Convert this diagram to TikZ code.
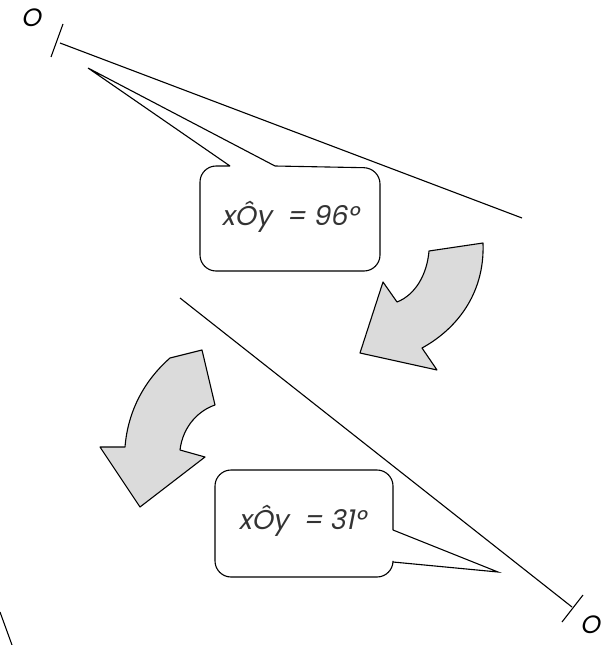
\documentclass[tikz,border=0pt]{standalone}
\usepackage{fontspec}
\newfontfamily\gothic{Poppins}[FakeSlant=0.2]
\begin{document}
\begin{tikzpicture}[x=0.035cm,y=-0.035cm,line width=1.1pt,
  callout/.style={draw,rounded corners=16},
  turnarrow/.style={draw,fill=gray!28,line join=round},
  anglelabel/.style={font=\gothic\fontsize{27}{29}\selectfont,color=black!80},
  pointlabel/.style={font=\gothic\fontsize{25}{27}\selectfont}]
\useasboundingbox (0,0) rectangle (611,645);
% first ray
\coordinate (O1) at (60,43);
\coordinate (E1) at (522,218);
\draw (O1) -- (E1);
\draw (51,57) -- (63,24);
\node[pointlabel] (lblO1) at (31,18) {O};
% first callout
\draw (230,166) -- (88,68) -- (275,166)
  [callout] -- (380,168) -- (380,271) -- (200,271) -- (200,166) -- (230,166);
\node[anglelabel] (ang1) at (290,217) {xÔy\; = 96°};
% second ray
\coordinate (O2) at (572,607);
\coordinate (E2) at (180,298);
\draw (E2) -- (O2);
\draw (562,622) -- (583,595);
\node[pointlabel] (lblO2) at (590,625) {O};
% second callout
\draw (393,530) -- (498,572) -- (393,562)
  [callout] -- (393,577) -- (215,577) -- (215,470) -- (393,470) -- (393,530);
\node[anglelabel] (ang2) at (302,521) {xÔy\; = 31°};
% turning arrows
\draw[turnarrow] (483,243) -- (429,251) .. controls (427,275) and (415,295) .. (397,302)
  -- (383,282) -- (360,353) -- (437,370) -- (422,348)
  .. controls (455,330) and (485,295) .. (483,243) -- cycle;
\draw[turnarrow] (170,358) -- (202,350) -- (215,405) .. controls (200,410) and (183,425) .. (180,450)
  -- (205,457) -- (140,507) -- (100,447) -- (125,447)
  .. controls (128,410) and (145,380) .. (170,358) -- cycle;
% edge of the page
\draw (0,612) -- (12,645);
\end{tikzpicture}
\end{document}
